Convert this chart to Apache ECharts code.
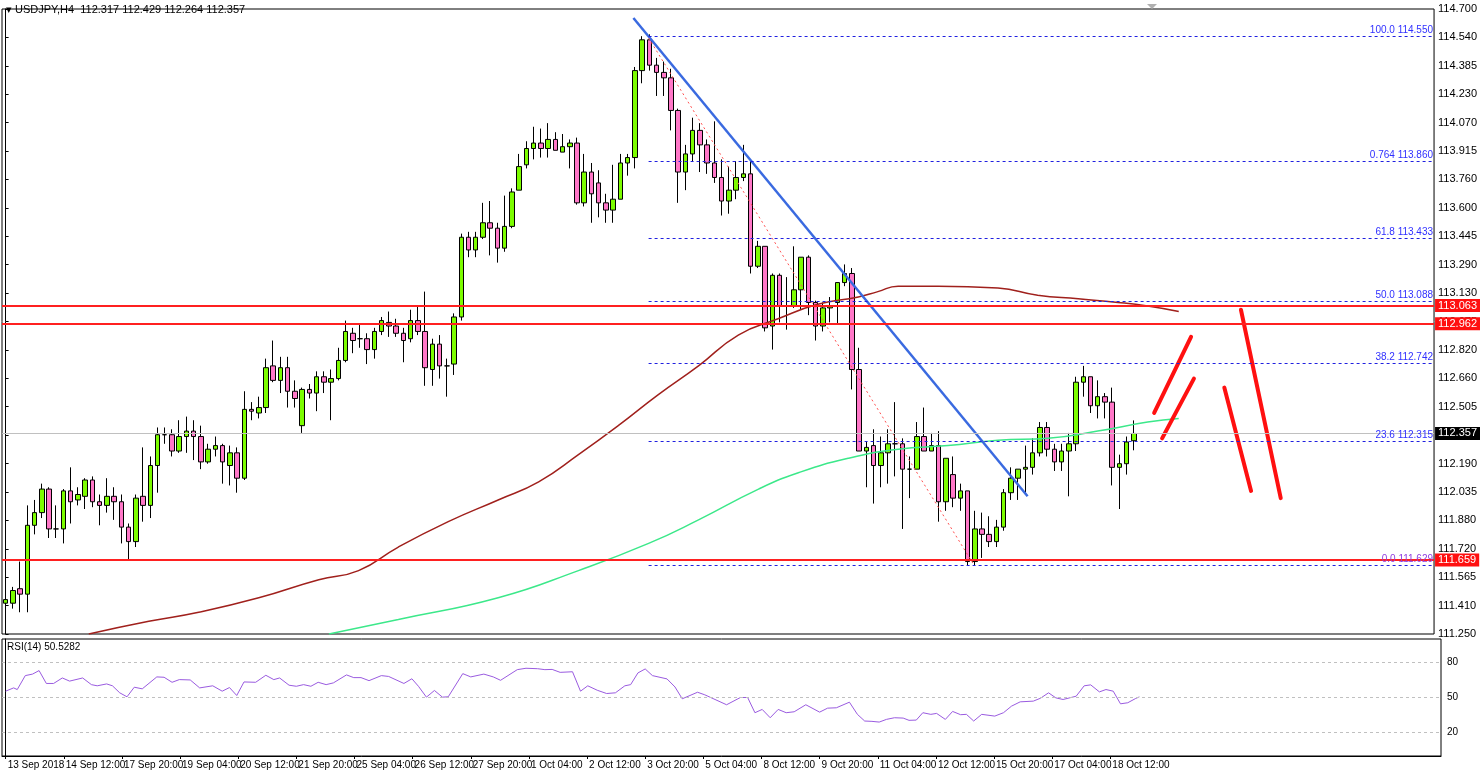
<!DOCTYPE html>
<html><head><meta charset="utf-8">
<script src="https://cdn.jsdelivr.net/npm/echarts@6/dist/echarts.min.js"></script>
<style>html,body{margin:0;padding:0;background:#fff}#c{width:1480px;height:772px}</style>
</head><body><div id="c"></div>
<script>
const opens=[111.42,111.42,111.50,111.47,111.85,111.92,112.05,111.83,111.83,112.04,111.99,112.01,112.10,111.98,111.96,112.01,111.98,111.84,111.76,112.01,111.96,112.18,112.35,112.35,112.26,112.34,112.37,112.34,112.20,112.27,112.29,112.18,112.25,112.11,112.49,112.47,112.50,112.73,112.65,112.72,112.59,112.40,112.60,112.58,112.67,112.64,112.66,112.76,112.91,112.88,112.88,112.82,112.92,112.97,112.95,112.91,112.88,112.98,112.92,112.71,112.85,112.73,112.74,113.00,113.44,113.37,113.44,113.52,113.49,113.38,113.50,113.70,113.84,113.93,113.96,113.93,113.98,113.91,113.94,113.96,113.63,113.80,113.74,113.63,113.59,113.65,113.85,113.88,114.36,114.53,114.39,114.35,114.32,114.14,113.80,113.90,114.03,113.95,113.85,113.77,113.64,113.70,113.77,113.79,113.28,113.39,112.95,113.23,113.06,113.06,113.15,113.33,113.08,112.95,113.05,113.08,113.19,113.24,112.71,112.26,112.29,112.18,112.25,112.30,112.30,112.16,112.16,112.34,112.26,112.29,111.98,112.13,112.00,112.04,111.65,111.83,111.80,111.76,111.84,112.03,112.11,112.16,112.17,112.25,112.39,112.27,112.20,112.26,112.30,112.64,112.67,112.51,112.56,112.53,112.17,112.19,112.317];
const closes=[111.44,111.49,111.47,111.85,111.92,112.05,111.83,111.83,112.04,111.98,112.02,112.10,111.98,111.96,112.01,111.98,111.84,111.76,112.00,111.96,112.18,112.35,112.35,112.26,112.34,112.37,112.34,112.20,112.27,112.29,112.20,112.25,112.11,112.49,112.48,112.50,112.72,112.65,112.72,112.59,112.55,112.60,112.58,112.67,112.64,112.66,112.76,112.92,112.87,112.88,112.82,112.92,112.98,112.95,112.91,112.87,112.98,112.92,112.72,112.85,112.73,112.73,113.00,113.44,113.37,113.44,113.52,113.49,113.38,113.50,113.69,113.83,113.93,113.96,113.93,113.98,113.92,113.94,113.96,113.63,113.80,113.68,113.63,113.59,113.65,113.85,113.88,114.36,114.53,114.39,114.35,114.32,114.14,113.80,113.90,114.03,113.95,113.85,113.77,113.64,113.70,113.77,113.79,113.28,113.39,112.94,113.23,113.06,113.06,113.15,113.33,113.08,112.95,113.05,113.06,113.19,113.24,112.71,112.26,112.28,112.18,112.25,112.30,112.30,112.16,112.16,112.34,112.26,112.29,111.98,112.22,112.00,112.04,111.65,111.83,111.80,111.76,111.84,112.03,112.11,112.16,112.17,112.25,112.39,112.27,112.20,112.26,112.30,112.64,112.67,112.51,112.56,112.53,112.17,112.19,112.31,112.357];
const highs=[111.48,111.51,111.65,111.96,111.99,112.08,112.06,111.96,112.05,112.17,112.06,112.11,112.12,112.02,112.11,112.06,112.02,111.86,112.02,112.28,112.23,112.39,112.39,112.38,112.43,112.45,112.43,112.40,112.30,112.34,112.30,112.29,112.28,112.59,112.53,112.56,112.77,112.87,112.78,112.78,112.65,112.61,112.63,112.70,112.70,112.71,112.83,112.98,112.94,112.96,112.91,112.94,113.00,113.03,112.99,112.94,113.04,113.06,113.14,112.88,112.90,112.77,113.02,113.46,113.47,113.47,113.63,113.64,113.52,113.67,113.71,113.90,113.97,114.05,114.04,114.07,114.02,114.01,113.98,113.99,113.90,113.85,113.81,113.68,113.84,113.90,113.90,114.38,114.55,114.56,114.43,114.41,114.37,114.15,113.95,114.10,114.07,113.98,114.08,113.87,113.83,113.86,113.95,113.86,113.42,113.39,113.24,113.24,113.22,113.39,113.33,113.34,113.09,113.08,113.11,113.19,113.29,113.27,112.83,112.31,112.38,112.34,112.38,112.53,112.33,112.23,112.42,112.50,112.36,112.37,112.22,112.23,112.08,112.04,111.93,111.92,111.90,111.88,112.05,112.17,112.16,112.29,112.33,112.42,112.42,112.30,112.30,112.36,112.67,112.73,112.67,112.65,112.58,112.61,112.24,112.34,112.429];
const lows=[111.33,111.39,111.37,111.37,111.80,111.89,111.78,111.78,111.75,111.86,111.96,111.94,111.95,111.85,111.92,111.88,111.75,111.66,111.73,111.87,111.89,112.03,112.30,112.23,112.25,112.25,112.21,112.16,112.19,112.23,112.08,112.07,112.03,112.10,112.43,112.44,112.47,112.64,112.58,112.50,112.50,112.36,112.55,112.48,112.58,112.43,112.65,112.75,112.80,112.83,112.74,112.77,112.90,112.89,112.89,112.75,112.86,112.90,112.62,112.62,112.66,112.56,112.68,112.98,113.33,113.33,113.43,113.34,113.30,113.36,113.49,113.70,113.82,113.87,113.88,113.88,113.92,113.91,113.82,113.62,113.61,113.52,113.55,113.52,113.52,113.65,113.78,113.82,114.29,114.36,114.22,114.22,114.03,113.63,113.70,113.86,113.80,113.79,113.74,113.56,113.57,113.65,113.75,113.24,113.27,112.92,112.82,112.97,112.93,113.05,113.04,113.01,112.87,112.92,112.97,112.96,113.17,112.60,112.26,112.06,111.97,112.06,112.08,112.12,111.83,112.00,112.16,112.26,112.26,111.87,111.93,111.95,111.93,111.63,111.63,111.67,111.73,111.73,111.82,111.99,111.99,112.03,112.13,112.23,112.23,112.15,112.15,112.01,112.26,112.56,112.47,112.44,112.44,112.07,111.94,112.13,112.264];

const priceTicks=['111.250','111.410','111.565','111.720','111.880','112.035','112.190','112.350','112.505','112.660','112.820','112.975','113.130','113.290','113.445','113.600','113.760','113.915','114.070','114.230','114.385','114.540','114.700'];
const ma100X=[11.5,19.8,26.7,35.0,43.3,48.8,54.3,61.2,68.1,73.7,79.2,84.7,90.2,95.8,101.3,106.8,112.3,117.9,120.6,123.4,128.9,137.2,142.7,148.3,153.8,157.9,162.2];
const ma100Y=[111.25,111.32,111.37,111.45,111.55,111.60,111.73,111.87,111.99,112.09,112.24,112.40,112.57,112.73,112.90,112.99,113.07,113.11,113.14,113.17,113.17,113.16,113.12,113.10,113.08,113.06,113.03];
const ma200X=[44.7,54.3,68.1,79.2,88.9,95.8,104.1,109.6,116.5,123.4,130.3,137.2,144.1,151.0,157.9,162.2];
const ma200Y=[111.25,111.33,111.45,111.60,111.75,111.88,112.05,112.14,112.22,112.27,112.29,112.32,112.33,112.37,112.42,112.44];
const rsiX=[0,1.1,1.6,2.7,3.7,4.6,5.6,6.6,7.8,8.8,10.6,11.8,12.6,13.9,14.7,15.7,16.7,17.7,18.8,20.8,21.8,22.9,23.9,25.4,26.7,28.5,29.8,30.8,31.8,32.8,34.4,35.8,36.9,37.7,39.0,40.0,41.0,42.0,43.0,44.1,45.1,46.9,47.9,48.9,50.0,51.7,52.7,54.8,55.9,56.8,57.9,59.0,60.1,60.9,62.9,64.0,65.8,67.1,68.1,70.4,71.6,73.2,74.2,75.2,76.3,78.0,79.1,80.1,81.4,82.7,83.9,85.2,86.0,87.0,88.0,89.0,91.0,92.1,93.1,95.2,96.2,99.2,101.1,102.1,103.1,104.1,105.2,106.3,107.4,108.5,110.1,112.0,113.1,114.3,116.1,117.2,118.2,119.2,120.2,121.2,122.3,123.5,124.3,125.3,126.2,127.3,128.1,129.3,130.3,131.4,132.2,133.2,134.3,136.1,137.3,138.4,139.6,141.4,142.4,143.5,144.5,145.5,147.3,148.4,149.3,150.5,151.4,152.4,153.4,154.4,155.5,156];
const rsiY=[55.4,58.2,56.8,68.7,70,73,62,62,66.7,64,66.7,61,60,61.6,60,54,50.6,58.8,57.4,67.6,67.3,63,65.3,65,58.2,60,55.4,58.5,51.7,63.3,63,69,65.3,66.7,60.5,59.6,61,59.6,63,61,62.5,69.3,67,67,64.4,68.7,68,62,66,59.6,50.3,56,50.3,50.6,70.4,67.6,70,67.6,64.7,73.8,75,74.6,73.8,74,71.5,72,55.4,60,56.2,53.4,54,60,61,71,74.4,68.7,65.9,59,48.9,54.5,52.3,43.8,50,50,37,39.8,32.7,39.8,37,37.8,43.8,37.5,40.9,41.2,46,35.6,29.9,29.6,29,31.3,32.7,32.4,30.5,30.7,37,35.6,36.4,31.3,38.1,35.3,35.6,29.9,35.6,34.1,37,42.6,46.3,46.9,49.4,54,49.7,48.3,51.1,60,60.8,54.8,56.8,55.4,44.6,45.5,49.2,50.53];
const fibLevels=[114.550,113.860,113.433,113.088,112.742,112.315,111.629];
const fibNames=['100.0','0.764','61.8','50.0','38.2','23.6','0.0'];
const redLevels=[113.063,112.962,111.659];
const lastPrice=112.357;
const trendBlue=[[86.8,114.65],[141.3,112.01]];
const trendRedDash=[[88.9,114.54],[133.9,111.63]];
const strokes=[[[158.8,112.47],[163.9,112.89]],[[159.9,112.33],[164.3,112.66]],[[168.5,112.61],[172.2,112.04]],[[170.8,113.04],[176.3,112.00]]];
const fibStart=88.9;

const N=198;
const MON=['Jan','Feb','Mar','Apr','May','Jun','Jul','Aug','Sep','Oct','Nov','Dec'];
const cats=[];
let t=Date.UTC(2018,8,13,4);
for(let i=0;i<N;i++){
  const d=new Date(t);
  let lab='';
  if(i<=152){
    lab = i===0 ? '13 Sep 2018' : d.getUTCDate()+' '+MON[d.getUTCMonth()]+' '+String(d.getUTCHours()).padStart(2,'0')+':00';
  }
  cats.push(lab);
  t+=4*3600e3;
  let n=new Date(t);
  while(n.getUTCDay()===0||n.getUTCDay()===6){t+=4*3600e3;n=new Date(t);}
}
const ohlc=opens.map((o,i)=>[o,closes[i],lows[i],highs[i]]);
const zip=(a,b)=>a.map((x,i)=>[x,b[i]]);
const FONT='Liberation Sans';
const pMin=111.25,pMax=114.70,pInt=(pMax-pMin)/22;

const markData=[];
fibLevels.forEach((v,i)=>markData.push([{coord:[fibStart,v],lineStyle:{color:'#2020e0',type:[3,3],width:1},label:{show:true,position:'insideEndTop',formatter:fibNames[i]+' '+v.toFixed(3),color:i===6?'#9040e0':'#3030ff',fontSize:10,fontFamily:FONT,distance:1}},{coord:[N-0.5,v]}]));
redLevels.forEach(v=>markData.push([{coord:[-0.5,v],lineStyle:{color:'#ff2020',type:'solid',width:2},label:{show:true,position:'end',formatter:v.toFixed(3),backgroundColor:'#ff1010',color:'#fff',fontSize:11,fontFamily:FONT,padding:[1,3],distance:1}},{coord:[N-0.5,v]}]));
markData.push([{coord:[-0.5,lastPrice],lineStyle:{color:'#c0c0c0',type:'solid',width:1},label:{show:true,position:'end',formatter:lastPrice.toFixed(3),backgroundColor:'#000',color:'#fff',fontSize:11,fontFamily:FONT,padding:[1,3],distance:1}},{coord:[N-0.5,lastPrice]}]);

const series=[
 {type:'line',xAxisIndex:1,yAxisIndex:0,data:[],silent:true,markLine:{symbol:'none',silent:true,animation:false,data:markData}},
 {type:'candlestick',xAxisIndex:0,yAxisIndex:0,data:ohlc,barWidth:5,itemStyle:{color:'#7cfc00',color0:'#ff77c8',borderColor:'#000',borderColor0:'#000',borderWidth:1}},
 {type:'line',xAxisIndex:1,yAxisIndex:0,data:zip(ma100X,ma100Y),smooth:true,symbol:'none',lineStyle:{color:'#a0201c',width:1.5}},
 {type:'line',xAxisIndex:1,yAxisIndex:0,data:zip(ma200X,ma200Y),smooth:true,symbol:'none',lineStyle:{color:'#3ce88a',width:1.5}},
 {type:'line',xAxisIndex:1,yAxisIndex:0,data:trendBlue,symbol:'none',lineStyle:{color:'#3a6ae0',width:2.5}},
 {type:'line',xAxisIndex:1,yAxisIndex:0,data:trendRedDash,symbol:'none',lineStyle:{color:'#ff5050',width:1,type:[2,3]}},
 ...strokes.map(s=>({type:'line',xAxisIndex:1,yAxisIndex:0,data:s,symbol:'none',lineStyle:{color:'#ff1010',width:4,cap:'round'}})),
 {type:'line',xAxisIndex:3,yAxisIndex:1,data:zip(rsiX,rsiY),symbol:'none',lineStyle:{color:'#9a5be0',width:1},
  markLine:{symbol:'none',silent:true,label:{show:false},lineStyle:{color:'#c0c0c0',type:[3,3],width:1},data:[{yAxis:80},{yAxis:50},{yAxis:20}]}}
];

const chart=echarts.init(document.getElementById('c'),null,{renderer:'canvas'});
chart.setOption({
 animation:false,backgroundColor:'#fff',
 textStyle:{fontFamily:FONT},
 graphic:[
  {type:'text',left:6,top:4,style:{text:'▾ USDJPY,H4  112.317 112.429 112.264 112.357',fontSize:11,fontFamily:FONT,fill:'#000'}},
  {type:'text',left:7,top:642,style:{text:'RSI(14) 50.5282',fontSize:10,fontFamily:FONT,fill:'#000'}},
  {type:'polygon',shape:{points:[[1147,4],[1157,4],[1152,9]]},style:{fill:'#b0b0b0'}}
 ],
 grid:[
  {left:2,right:39,top:9,bottom:138,show:true,borderColor:'#000',borderWidth:1,backgroundColor:'#fff'},
  {left:2,right:39,top:639,bottom:16,show:true,borderColor:'#000',borderWidth:1}
 ],
 xAxis:[
  {type:'category',gridIndex:0,data:cats,boundaryGap:true,axisLine:{show:false},axisTick:{show:false},axisLabel:{show:false},splitLine:{show:false}},
  {type:'value',gridIndex:0,min:-0.5,max:N-0.5,show:false},
  {type:'category',gridIndex:1,data:cats,boundaryGap:true,position:'bottom',axisLine:{show:true,lineStyle:{color:'#000'}},
   axisTick:{show:true,interval:(i,v)=>i%8===0&&v!=='',length:3,alignWithLabel:true,lineStyle:{color:'#000'}},
   axisLabel:{interval:(i,v)=>i%8===0&&v!=='',align:'left',padding:[0,0,0,2],fontSize:10,color:'#000',margin:4,fontFamily:'Liberation Sans Narrow, Liberation Sans',hideOverlap:false},splitLine:{show:false}},
  {type:'value',gridIndex:1,min:-0.5,max:N-0.5,show:false}
 ],
 yAxis:[
  {type:'value',gridIndex:0,position:'right',min:pMin,max:pMax,interval:pInt,
   axisLine:{show:true,lineStyle:{color:'#000'}},axisTick:{show:true,length:3,lineStyle:{color:'#000'}},splitLine:{show:false},
   axisLabel:{fontSize:11,color:'#000',margin:4,fontFamily:FONT,formatter:v=>priceTicks[Math.round((v-pMin)/pInt)]||''}},
  {type:'value',gridIndex:1,position:'right',min:0,max:100,interval:10,
   axisLine:{show:true,lineStyle:{color:'#000'}},axisTick:{show:false},splitLine:{show:false},
   axisLabel:{fontSize:10,color:'#000',margin:6,fontFamily:FONT,formatter:v=>(v===80||v===50||v===20)?String(v):''}}
 ],
 series:series
});
</script></body></html>
